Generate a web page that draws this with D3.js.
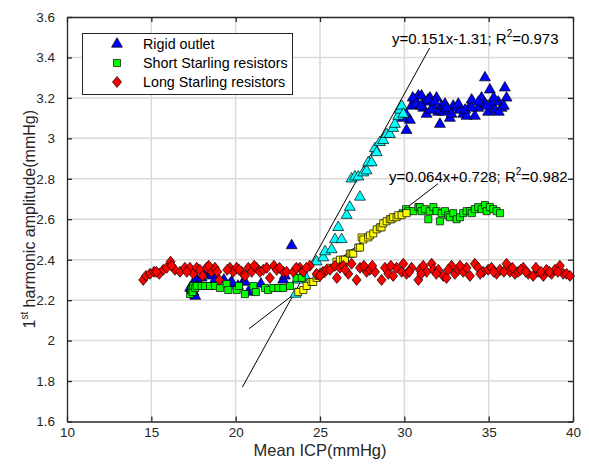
<!DOCTYPE html>
<html>
<head>
<meta charset="utf-8">
<script src="https://cdn.jsdelivr.net/npm/d3@7"></script>
<style>
  body { margin: 0; background: #fff; }
  text { font-family: "Liberation Sans", Arial, sans-serif; }
</style>
</head>
<body>
<div id="canvas"></div>
<script>
// tick labels
const xTicks = [10, 15, 20, 25, 30, 35, 40]
const yTicks = [1.6, 1.8, 2, 2.2, 2.4, 2.6, 2.8, 3, 3.2, 3.4, 3.6]

const seriesNames = ['Rigid outlet', 'Short Starling resistors', 'Long Starling resistors']

// rigid outlet, plateau points (blue)
const rigidOutlet = [
  [17.3,2.26],[17.45,2.28],[17.5,2.24],[17.6,2.22],[17.7,2.30],[17.98,2.31],[18.2,2.33],[18.48,2.33],
  [18.6,2.32],[18.77,2.30],[19.3,2.30],[19.66,2.28],[19.76,2.29],[20.14,2.27],[20.45,2.29],[20.55,2.29],
  [20.75,2.24],[21.5,2.28],[22.82,2.30],[22.92,2.32],[23.32,2.47],
  [30.13,3.04],[30.33,3.09],[30.43,3.16],[30.63,3.19],[30.83,3.21],[31.02,3.21],[31.12,3.15],[31.22,3.18],
  [31.32,3.12],[31.52,3.20],[31.71,3.16],[31.91,3.20],[32.01,3.13],[32.11,3.07],[32.21,3.16],[32.31,3.13],
  [32.41,3.17],[32.60,3.14],[32.70,3.10],[32.90,3.16],[33.10,3.15],[33.30,3.14],[33.49,3.12],[33.69,3.11],
  [33.89,3.16],[33.99,3.19],[34.18,3.11],[34.38,3.15],[34.58,3.20],[34.78,3.17],[34.78,3.30],[34.97,3.13],
  [35.07,3.24],[35.17,3.17],[35.37,3.14],[35.57,3.18],[35.77,3.15],[35.96,3.25],[36.06,3.20],
  [29.9,3.10],[30.1,3.12],[30.5,3.20],[30.7,3.17],[31.0,3.16],[31.4,3.19],[31.6,3.14],[31.8,3.18],
  [32.5,3.15],[32.8,3.12],[33.2,3.17],[33.6,3.14],[34.0,3.15],[34.4,3.18],[34.9,3.16],[35.3,3.20],
  [35.6,3.13],[35.9,3.16]
]

// rigid outlet, points used for the fit (cyan)
const rigidFit = [
  [23.55,2.23],[23.65,2.30],[23.9,2.31],[24.1,2.32],[24.8,2.39],[25.19,2.41],[25.3,2.44],[25.69,2.45],
  [25.89,2.50],[26.08,2.56],[26.28,2.50],[26.58,2.62],[26.77,2.66],[26.87,2.80],[27.07,2.81],[27.27,2.81],
  [27.37,2.71],[27.57,2.83],[27.76,2.84],[27.86,2.88],[28.06,2.88],[28.26,2.95],[28.36,2.93],[28.55,2.98],
  [28.75,2.99],[28.95,3.02],[29.14,3.02],[29.34,3.05],[29.44,3.07],[29.64,3.11],[29.74,3.14],[29.84,3.16],
  [29.94,3.12]
]

// short Starling resistors, plateau points (green)
const shortStarling = [
  [17.3,2.23],[17.35,2.25],[17.39,2.25],[17.45,2.24],[17.49,2.27],[17.6,2.26],[17.69,2.27],[17.98,2.27],
  [18.18,2.27],[18.48,2.27],[18.77,2.27],[19.07,2.26],[19.46,2.28],[19.56,2.25],[20.06,2.25],[20.2,2.27],
  [20.55,2.23],[21.05,2.27],[21.2,2.24],[21.74,2.26],[21.93,2.25],[22.23,2.26],[22.53,2.26],[22.82,2.26],
  [23.22,2.27],[23.61,2.31],[23.91,2.31],
  [29.9,2.63],[30.1,2.65],[30.23,2.64],[30.53,2.64],[30.83,2.66],[30.92,2.66],[31.02,2.64],[31.22,2.65],
  [31.42,2.60],[31.5,2.64],[31.72,2.66],[31.91,2.64],[32.11,2.59],[32.21,2.63],[32.41,2.64],[32.6,2.62],
  [32.7,2.61],[32.9,2.63],[33.1,2.60],[33.3,2.61],[33.49,2.63],[33.69,2.64],[33.89,2.64],[34.0,2.63],
  [34.18,2.65],[34.38,2.66],[34.58,2.65],[34.78,2.67],[34.88,2.64],[35.07,2.66],[35.27,2.65],[35.47,2.64],
  [35.67,2.63]
]

// short Starling resistors, points used for the fit (yellow)
const shortFit = [
  [23.71,2.24],[24.01,2.25],[24.21,2.27],[24.5,2.29],[24.6,2.29],[24.8,2.31],[24.9,2.32],[25.1,2.33],
  [25.19,2.34],[25.59,2.36],[25.98,2.39],[26.18,2.40],[26.38,2.40],[26.48,2.40],[26.77,2.43],[26.87,2.43],
  [26.97,2.43],[27.27,2.46],[27.37,2.46],[27.47,2.51],[27.57,2.50],[27.86,2.51],[27.96,2.52],[28.16,2.53],
  [28.36,2.55],[28.55,2.56],[28.65,2.56],[28.75,2.58],[28.95,2.59],[29.14,2.60],[29.24,2.60],[29.34,2.61],
  [29.54,2.61],[29.64,2.62],[29.84,2.62],[30.13,2.63]
]

// long Starling resistors (red)
const longStarling = [
  [14.52,2.30],[14.68,2.32],[14.92,2.33],[15.16,2.34],[15.47,2.33],[15.71,2.35],[15.91,2.36],[16.14,2.39],
  [16.40,2.35],[16.70,2.34],[16.99,2.36],[17.29,2.36],[17.49,2.33],[17.69,2.36],[17.88,2.35],[18.04,2.32],
  [18.28,2.36],[18.57,2.34],[18.77,2.36],[18.91,2.34],[19.03,2.30],[19.66,2.36],[19.86,2.34],[20.06,2.36],
  [20.35,2.34],[20.55,2.32],[20.75,2.36],[20.95,2.34],[21.24,2.36],[21.44,2.34],[21.64,2.35],[21.84,2.36],
  [22.03,2.31],[22.27,2.37],[22.43,2.35],[22.82,2.34],[23.02,2.34],[23.42,2.34],[23.81,2.36],[24.01,2.34],
  [24.40,2.37],[24.80,2.33],[25.19,2.34],[25.39,2.35],[25.59,2.35],[25.89,2.37],[26.18,2.36],[26.38,2.37],
  [26.68,2.33],[26.87,2.38],[27.17,2.30],[27.37,2.36],[27.76,2.34],[27.96,2.35],[28.26,2.34],[28.65,2.30],
  [28.85,2.36],[29.05,2.33],[29.34,2.32],[29.54,2.36],[29.84,2.34],[29.94,2.38],[30.13,2.33],[30.43,2.36],
  [30.83,2.30],[30.92,2.35],[31.12,2.37],[31.32,2.34],[31.62,2.38],[31.72,2.35],[32.01,2.35],[32.31,2.32],
  [32.50,2.31],[32.80,2.37],[33.00,2.33],[33.20,2.35],[33.49,2.34],[33.69,2.36],[33.89,2.32],[34.18,2.38],
  [34.38,2.36],[34.68,2.34],[34.97,2.35],[35.17,2.36],[35.47,2.33],[35.67,2.35],[36.06,2.38],[36.26,2.34],
  [36.56,2.33],[36.75,2.34],[37.05,2.36],[37.35,2.33],[37.64,2.32],[37.94,2.34],[38.24,2.32],[38.43,2.35],
  [38.73,2.33],[38.93,2.35],[39.22,2.37],[39.42,2.33],[39.62,2.33],[39.82,2.32],
  [15.3,2.34],[16.2,2.37],[17.1,2.34],[18.4,2.37],[19.5,2.35],[20.2,2.35],[21.1,2.37],[22.6,2.36],
  [23.6,2.36],[24.2,2.36],[25.0,2.32],[26.0,2.31],[26.5,2.35],[27.6,2.37],[28.1,2.37],[29.2,2.37],
  [30.3,2.34],[31.0,2.33],[31.9,2.33],[32.6,2.35],[33.3,2.37],[34.5,2.33],[35.3,2.34],[35.9,2.34],
  [36.4,2.36],[36.9,2.35],[37.2,2.34],[37.8,2.36],[38.1,2.34],[38.6,2.34],[39.1,2.34]
]

// fitted lines: slope, intercept, x range drawn
const fit1 = { slope: 0.151, intercept: -1.31, from: 20.4, to: 31.5 }
const fit2 = { slope: 0.064, intercept: 0.728, from: 20.8, to: 32.0 }

const width = 589
const height = 469
const margin = { top: 17, right: 16, bottom: 47, left: 67 }
const ink = '#262626'

const svg = d3.select('#canvas')
  .append('svg')
    .attr('width', width)
    .attr('height', height)

const x = d3.scaleLinear().domain([10, 40]).range([margin.left, width - margin.right])
const y = d3.scaleLinear().domain([1.6, 3.6]).range([height - margin.bottom - 0.5, margin.top])

// grid
const grid = svg.append('g').attr('stroke', '#dadada').attr('stroke-width', 1.5)
grid.selectAll('.gx').data(xTicks.slice(1, -1)).enter().append('line')
  .attr('x1', d => x(d)).attr('x2', d => x(d))
  .attr('y1', y(1.6)).attr('y2', y(3.6))
grid.selectAll('.gy').data(yTicks.slice(1, -1)).enter().append('line')
  .attr('x1', x(10)).attr('x2', x(40))
  .attr('y1', d => y(d)).attr('y2', d => y(d))

// fit lines
const lineGen = d3.line().x(d => x(d[0])).y(d => y(d[1]))
;[fit1, fit2].forEach(f => {
  svg.append('path')
    .attr('d', lineGen([[f.from, f.slope * f.from + f.intercept], [f.to, f.slope * f.to + f.intercept]]))
    .attr('stroke', '#000')
    .attr('stroke-width', 1)
    .attr('fill', 'none')
})

// markers
const tri = d3.symbol().type(d3.symbolTriangle).size(52)()
const sq = d3.symbol().type(d3.symbolSquare).size(50)()
const dia = 'M0,-5.5L4.5,0L0,5.5L-4.5,0Z'

function drawSeries(data, path, fill) {
  svg.append('g').selectAll('path')
    .data(data)
    .enter()
    .append('path')
    .attr('d', path)
    .attr('transform', d => `translate(${x(d[0])},${y(d[1])})`)
    .attr('fill', fill)
    .attr('stroke', '#000')
    .attr('stroke-width', 0.7)
}

drawSeries(rigidOutlet, tri, '#0000ff')
drawSeries(rigidFit, tri, '#00ffff')
drawSeries(shortStarling, sq, '#00ff00')
drawSeries(shortFit, sq, '#ffff00')
drawSeries(longStarling, dia, '#ff0000')

// axes
function styleAxis(g) {
  g.selectAll('.domain').attr('stroke', ink).attr('stroke-width', 1.3)
  g.selectAll('.tick line').attr('stroke', ink).attr('stroke-width', 1.3)
  g.selectAll('.tick text').attr('fill', ink).attr('font-size', '13.5px')
    .attr('font-family', '"Liberation Sans", Arial, sans-serif')
}

svg.append('g')
  .attr('transform', `translate(0,${y(1.6)})`)
  .call(d3.axisBottom(x).tickValues(xTicks).tickSizeInner(-5).tickSizeOuter(0).tickPadding(6))
  .call(styleAxis)
svg.append('g')
  .attr('transform', `translate(0,${y(3.6)})`)
  .call(d3.axisTop(x).tickValues(xTicks).tickSizeInner(-5).tickSizeOuter(0).tickFormat(''))
  .call(styleAxis)
svg.append('g')
  .attr('transform', `translate(${x(10)},0)`)
  .call(d3.axisLeft(y).tickValues(yTicks).tickSizeInner(-5).tickSizeOuter(0).tickPadding(12).tickFormat(d3.format('~g')))
  .call(styleAxis)
svg.append('g')
  .attr('transform', `translate(${x(40)},0)`)
  .call(d3.axisRight(y).tickValues(yTicks).tickSizeInner(-5).tickSizeOuter(0).tickFormat(''))
  .call(styleAxis)

// axis labels
svg.append('text')
  .attr('x', (x(10) + x(40)) / 2)
  .attr('y', 456)
  .attr('text-anchor', 'middle')
  .attr('font-size', '16.5px')
  .attr('fill', ink)
  .text('Mean ICP(mmHg)')

const yl = svg.append('text')
  .attr('transform', `translate(35,${(y(1.6) + y(3.6)) / 2}) rotate(-90)`)
  .attr('text-anchor', 'middle')
  .attr('font-size', '16px')
  .attr('fill', ink)
yl.append('tspan').text('1')
yl.append('tspan').attr('font-size', '10px').attr('dy', -7).text('st')
yl.append('tspan').attr('dy', 7).text(' harmonic amplitude(mmHg)')

// fit equations
function equation(px, py, before, after) {
  const t = svg.append('text')
    .attr('x', px).attr('y', py)
    .attr('font-size', '15px')
    .attr('fill', '#000')
  t.append('tspan').text(before)
  t.append('tspan').attr('font-size', '10px').attr('dy', -7).text('2')
  t.append('tspan').attr('dy', 7).text(after)
}
equation(392, 44, 'y=0.151x-1.31; R', '=0.973')
equation(389, 182, 'y=0.064x+0.728; R', '=0.982')

// legend
const legend = svg.append('g')
legend.append('rect')
  .attr('x', 82.5).attr('y', 33.5)
  .attr('width', 210).attr('height', 61)
  .attr('fill', '#fff')
  .attr('stroke', ink)
  .attr('stroke-width', 1)
const legendMarks = [[tri, '#0000ff'], [sq, '#00ff00'], [dia, '#ff0000']]
seriesNames.forEach((name, i) => {
  const cy = 44 + i * 19
  legend.append('path')
    .attr('d', legendMarks[i][0])
    .attr('transform', `translate(117,${cy})`)
    .attr('fill', legendMarks[i][1])
    .attr('stroke', '#000')
    .attr('stroke-width', 0.7)
  legend.append('text')
    .attr('x', 143).attr('y', cy + 5)
    .attr('font-size', '14.3px')
    .attr('fill', '#000')
    .text(name)
})
</script>
</body>
</html>
